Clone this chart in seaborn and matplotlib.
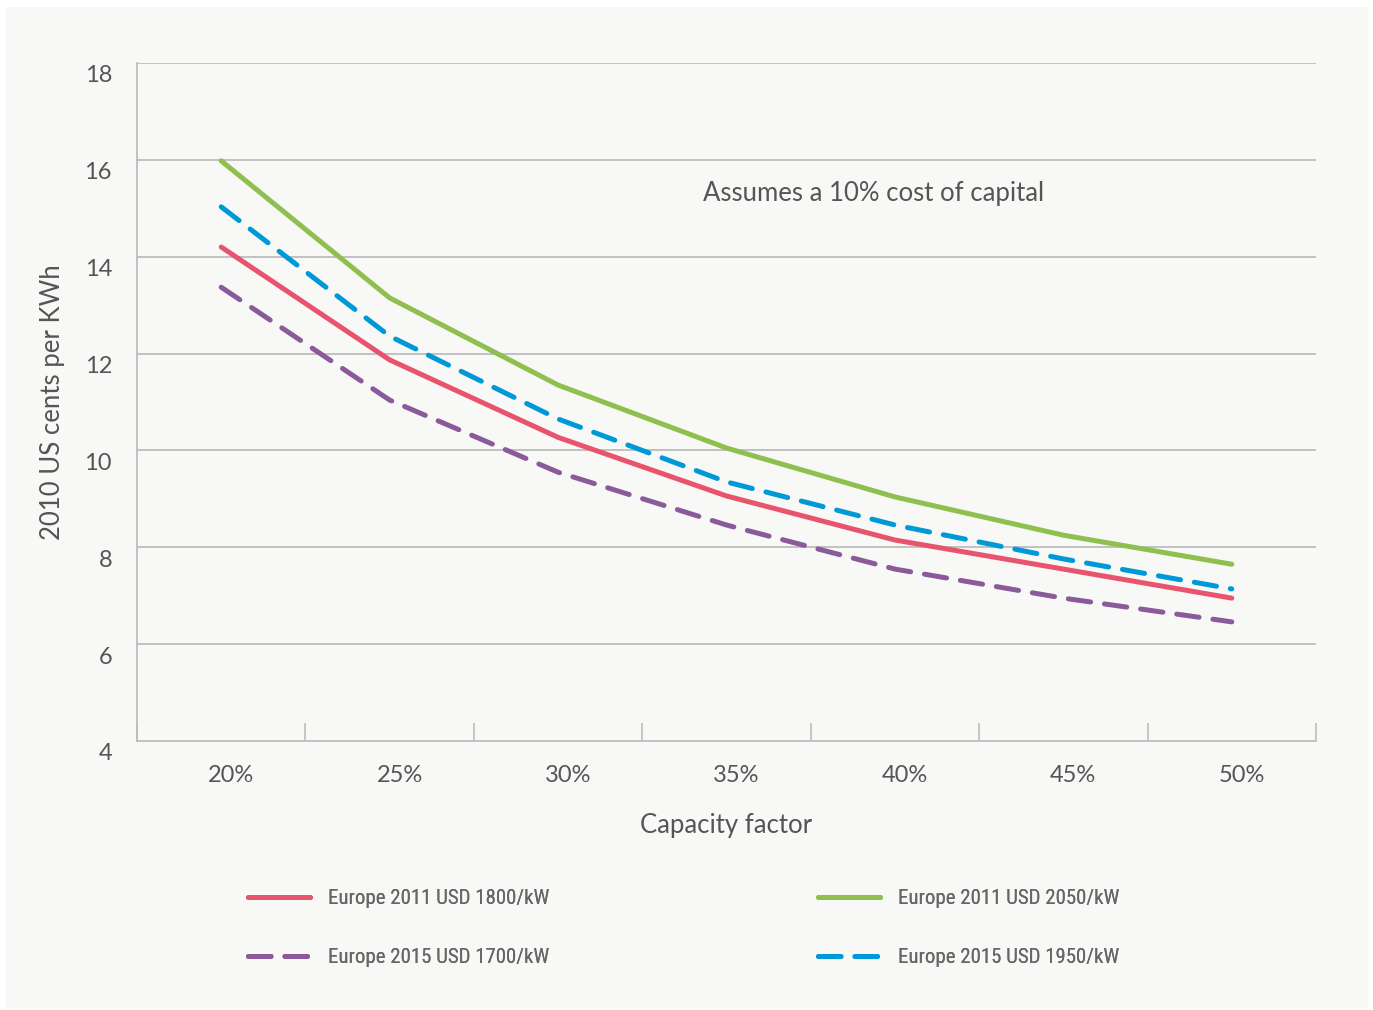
import numpy as np
import pandas as pd
import seaborn as sns
import matplotlib.pyplot as plt
import matplotlib.transforms as mtransforms
from matplotlib import font_manager
from matplotlib.lines import Line2D
from matplotlib.patches import Rectangle

# data
capacity = ['20%', '25%', '30%', '35%', '40%', '45%', '50%']
eu2011_1800 = [14.2, 11.87, 10.27, 9.06, 8.15, 7.55, 6.95]
eu2011_2050 = [15.98, 13.15, 11.35, 10.05, 9.04, 8.25, 7.65]
eu2015_1700 = [13.37, 11.04, 9.55, 8.46, 7.55, 6.95, 6.46]
eu2015_1950 = [15.03, 12.36, 10.65, 9.35, 8.46, 7.76, 7.14]
series_names = ['Europe 2011 USD 1800/kW', 'Europe 2011 USD 2050/kW',
                'Europe 2015 USD 1700/kW', 'Europe 2015 USD 1950/kW']

bg = '#f8f8f6'
grid_c = '#bdbdbd'
txt_c = '#555555'
styles = {
    series_names[0]: dict(color='#e8546e', dash=None),
    series_names[1]: dict(color='#8fc04f', dash=None),
    series_names[2]: dict(color='#8a5a9a', dash=(4.5, 2.8)),
    series_names[3]: dict(color='#0099d8', dash=(4.5, 2.8)),
}

rows = []
for name, vals in zip(series_names, [eu2011_1800, eu2011_2050, eu2015_1700, eu2015_1950]):
    for i, v in enumerate(vals):
        rows.append({'pos': i, 'cf': capacity[i], 'value': v, 'series': name})
df = pd.DataFrame(rows)

sns.set_style('white')
plt.rcParams['font.family'] = ['Lato', 'DejaVu Sans']

# pick a regular-weight narrow face for the legend (the reference uses a condensed font)
def is_regular(f):
    return f.weight in (300, 400, 'light', 'normal', 'regular', 'book') and f.style == 'normal'

narrow = [f for f in font_manager.fontManager.ttflist
          if is_regular(f) and ('Narrow' in f.name or 'Condensed' in f.name
                                or f.stretch in ('condensed', 'semi-condensed'))]
order = ['Liberation Sans Narrow', 'Roboto Condensed', 'Open Sans Condensed', 'DejaVu Sans Condensed']
narrow.sort(key=lambda f: (order.index(f.name) if f.name in order else len(order),
                           0 if f.weight in (400, 'normal', 'regular') else 1))
if narrow:
    leg_prop = font_manager.FontProperties(fname=narrow[0].fname, size=15)
else:
    leg_prop = font_manager.FontProperties(family='Lato', size=13.5)

fig = plt.figure(figsize=(13.73, 10.10), dpi=100)
fig.patch.set_facecolor('white')
fig.patches.append(Rectangle((6 / 1373, 1 - 1008 / 1010), 1362 / 1373, 1001 / 1010,
                             transform=fig.transFigure, facecolor=bg, edgecolor='none', zorder=-10))
ax = fig.add_axes([137 / 1373, 1 - 741 / 1010, (1316 - 137) / 1373, (741 - 63) / 1010])
ax.set_facecolor(bg)

# draw order: back to front like the reference
for name in [series_names[2], series_names[0], series_names[3], series_names[1]]:
    st = styles[name]
    sub = df[df['series'] == name]
    sns.lineplot(data=sub, x='pos', y='value', ax=ax, color=st['color'],
                 linewidth=3.6, legend=False, zorder=3)
    l = ax.lines[-1]
    l.set_solid_capstyle('round')
    l.set_dash_capstyle('round')
    if st['dash'] is not None:
        l.set_dashes(st['dash'])

ax.set_xlim(-0.5, 6.5)
ax.set_ylim(4, 18)
ax.set_yticks(np.arange(4, 19, 2))
ax.set_xticks(range(len(capacity)))
ax.set_xticklabels(capacity)
ax.set_xticks(np.arange(-0.5, 7, 1), minor=True)
ax.tick_params(axis='x', which='major', bottom=True, length=0, pad=17, labelsize=17, labelcolor=txt_c)
ax.tick_params(axis='x', which='minor', bottom=True, length=13, width=1.2, direction='in', color=grid_c)
ax.tick_params(axis='y', length=0, pad=18, labelsize=17, labelcolor=txt_c)
for t in ax.get_yticklabels():
    t.set_transform(t.get_transform() + mtransforms.ScaledTranslation(0, -11 / 100, fig.dpi_scale_trans))
for t in ax.get_xticklabels():
    t.set_transform(t.get_transform() + mtransforms.ScaledTranslation(10 / 100, 0, fig.dpi_scale_trans))

for y in range(6, 19, 2):
    ax.axhline(y, color=grid_c, linewidth=1.3, zorder=1)
for side in ['top', 'right']:
    ax.spines[side].set_visible(False)
for side in ['left', 'bottom']:
    ax.spines[side].set_color(grid_c)
    ax.spines[side].set_linewidth(1.3)

ax.set_xlabel('Capacity factor', fontsize=18.5, color=txt_c, labelpad=20)
ax.set_ylabel('2010 US cents per KWh', fontsize=18.5, color=txt_c, labelpad=14)
ax.text(3.875, 15.3, 'Assumes a 10% cost of capital', fontsize=18.5, color=txt_c,
        ha='center', va='center')

def handle(name):
    st = styles[name]
    h = Line2D([], [], color=st['color'], linewidth=3.6, solid_capstyle='round',
               dash_capstyle='round')
    if st['dash'] is not None:
        h.set_dashes(st['dash'])
    return h

# two legend columns, placed separately
fs = leg_prop.get_size_in_points()
for xs, pair in [(248, [series_names[0], series_names[2]]), (818, [series_names[1], series_names[3]])]:
    leg = fig.legend([handle(n) for n in pair], pair, loc='upper left', frameon=False,
                     bbox_to_anchor=(xs / 1373, 1 - 889 / 1010), borderaxespad=0, borderpad=0,
                     handlelength=44.6 / fs, handletextpad=13.0 / fs,
                     labelspacing=40 / (fs * 1.389), prop=leg_prop)
    for t in leg.get_texts():
        t.set_color('#666666')
    fig.add_artist(leg)

fig.savefig('out.png', dpi=100, facecolor=fig.get_facecolor())
